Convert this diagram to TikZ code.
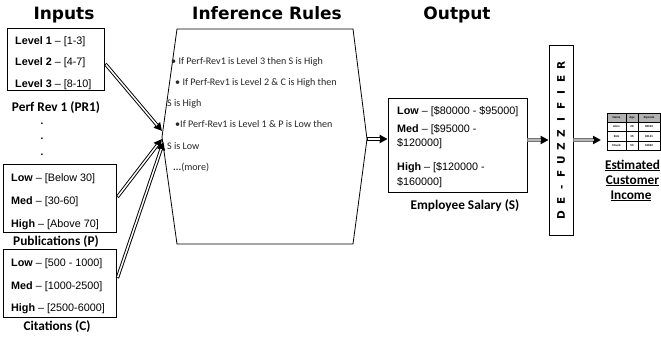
\documentclass[tikz,border=0pt]{standalone}
\usepackage{fontspec}
\setmainfont{Liberation Sans}
\newfontfamily\calfont{Carlito}
\newfontfamily\ttlfont{DejaVu Sans}
\usetikzlibrary{arrows.meta,calc}
\newcommand\dfl[1]{\makebox[13.6pt]{#1}}
\begin{document}
\begin{tikzpicture}[x=1pt,y=-1pt,
  box/.style={draw, line width=0.8pt, inner sep=0pt},
  btxt/.style={anchor=base west, inner sep=0pt, font=\fontsize{10.8}{12}\selectfont},
  capt/.style={anchor=base, inner sep=0pt, font=\calfont\bfseries\fontsize{13.3}{15}\selectfont},
  ttl/.style={anchor=base, inner sep=0pt, font=\ttlfont\bfseries\fontsize{17}{20}\selectfont},
  rtxt/.style={anchor=base west, inner sep=0pt, font=\calfont\fontsize{10.1}{12}\selectfont, text=black!85},
  dotn/.style={inner sep=0pt, font=\bfseries\fontsize{10}{10}\selectfont},
  dbl/.style={line width=3.4pt, -{Triangle[length=8pt,width=8pt]},
    postaction={draw=white, line width=1.5pt, arrows=-, shorten >=7.5pt, shorten <=0.8pt}},
  gdbl/.style={draw=black!55, line width=3.6pt, -{Triangle[length=8pt,width=8pt,color=black]},
    postaction={draw=black!28, line width=1.8pt, arrows=-, shorten >=7.5pt, shorten <=0.8pt}},
  tcell/.style={inner sep=0pt, font=\bfseries\fontsize{2.8}{3}\selectfont}
]
\useasboundingbox (0,0) rectangle (661,337);

% titles
\node[ttl] (t1) at (64,19.5) {Inputs};
\node[ttl] (t2) at (267,19.5) {Inference Rules};
\node[ttl] (t3) at (457,19.5) {Output};

% input boxes
\node[box, minimum width=97pt, minimum height=62pt] (pr1) at (55.5,59) {};
\node[btxt] (pr1a) at (15,45) {\textbf{Level 1} -- [1-3]};
\node[btxt] (pr1b) at (15,66) {\textbf{Level 2} -- [4-7]};
\node[btxt] (pr1c) at (15,87) {\textbf{Level 3} -- [8-10]};
\node[capt] (pr1l) at (56,111.5) {Perf Rev 1 (PR1)};
\node[dotn] (d1) at (42,123.5) {.};
\node[dotn] (d2) at (42,139) {.};
\node[dotn] (d3) at (42,155) {.};

\node[box, minimum width=113pt, minimum height=68pt] (pub) at (59.5,198) {};
\node[btxt] (puba) at (11,181) {\textbf{Low} -- [Below 30]};
\node[btxt] (pubb) at (11,204) {\textbf{Med} -- [30-60]};
\node[btxt] (pubc) at (11,227) {\textbf{High} -- [Above 70]};
\node[capt] (publ) at (56,245.5) {Publications (P)};

\node[box, minimum width=113pt, minimum height=68pt] (cit) at (59.5,283) {};
\node[btxt] (cita) at (11,266) {\textbf{Low} -- [500 - 1000]};
\node[btxt] (citb) at (11,289) {\textbf{Med} -- [1000-2500]};
\node[btxt] (citc) at (11,311) {\textbf{High} -- [2500-6000]};
\node[capt] (citl) at (57,330.5) {Citations (C)};

% inference shape
\coordinate (iTL) at (177,29);
\coordinate (iTR) at (353,29);
\coordinate (iR) at (367,139);
\coordinate (iBR) at (353,244);
\coordinate (iBL) at (177,244);
\coordinate (iL) at (162,137);
\draw[line width=0.8pt] (iTL) -- (iTR) -- (iR) -- (iBR) -- (iBL) -- (iL) -- cycle;
\node[rtxt] (r1) at (171,64.5) {\textbullet\ If Perf-Rev1 is Level 3 then S is High};
\node[rtxt] (r2) at (175,85.5) {\textbullet\ If Perf-Rev1 is Level 2 \& C is High then};
\node[rtxt] (r3) at (167,106.5) {S is High};
\node[rtxt] (r4) at (175,127.5) {\textbullet If Perf-Rev1 is Level 1 \& P is Low then};
\node[rtxt] (r5) at (167,149) {S is Low};
\node[rtxt] (r6) at (173,170.5) {\textbf{...}(more)};

\coordinate (in1) at (162,131);
\coordinate (in2) at (162,139);
\coordinate (in3) at (163.5,142);
\draw[dbl] ($(pr1.east)+(1,5)$) -- (in1);
\draw[dbl] ($(pub.east)+(1,-1)$) -- (in2);
\draw[dbl] ($(cit.east)+(1,-5)$) -- (in3);

% output
\node[box, minimum width=139pt, minimum height=94pt] (out) at (457.5,145) {};
\node[btxt] (oa) at (397,114) {\textbf{Low} -- [\$80000 - \$95000]};
\node[btxt] (ob) at (397,132) {\textbf{Med} -- [\$95000 -};
\node[btxt] (ob2) at (397,146) {\$120000]};
\node[btxt] (oc) at (397,170) {\textbf{High} -- [\$120000 -};
\node[btxt] (oc2) at (397,185) {\$160000]};
\node[capt] (outl) at (465,209.5) {Employee Salary (S)};

\draw[dbl] (iR) -- (out.west |- iR);

% defuzzifier
\node[box, minimum width=24pt, minimum height=190pt] (dfz) at (561,140) {};
\node[inner sep=0pt, rotate=90, font=\ttlfont\bfseries\fontsize{10.5}{12}\selectfont] (dfzt) at (561,140)
  {\dfl{D}\dfl{E}\dfl{-}\dfl{F}\dfl{U}\dfl{Z}\dfl{Z}\dfl{I}\dfl{F}\dfl{I}\dfl{E}\dfl{R}};

\draw[gdbl] ($(out.east)+(0,-5)$) -- (dfz.west |- 0,140);

% table
\coordinate (tin) at (601,140);
\draw[gdbl] (dfz.east |- 0,140) -- (tin);
\fill[black!30] (607,113) rectangle (660,122);
\draw[line width=0.4pt] (607,113) rectangle (660,150);
\draw[line width=0.3pt] (607,122) -- (660,122) (607,131.5) -- (660,131.5) (607,141) -- (660,141)
  (626,113) -- (626,150) (638,113) -- (638,150);
\node[tcell] (h1) at (616.5,117.5) {Name};
\node[tcell] (h2) at (632,117.5) {Age};
\node[tcell] (h3) at (649,117.5) {Zipcode};
\node[tcell] (a1) at (616.5,126.75) {Alice};
\node[tcell] (a2) at (632,126.75) {28};
\node[tcell] (a3) at (649,126.75) {98033};
\node[tcell] (b1) at (616.5,136.25) {Bob};
\node[tcell] (b2) at (632,136.25) {35};
\node[tcell] (b3) at (649,136.25) {92131};
\node[tcell] (c1) at (616.5,145.5) {Chuck};
\node[tcell] (c2) at (632,145.5) {50};
\node[tcell] (c3) at (649,145.5) {16802};

\node[capt] (e1) at (632.5,169) {\underline{Estimated}};
\node[capt] (e2) at (632.5,184) {\underline{Customer}};
\node[capt] (e3) at (631,199) {\underline{Income}};
\end{tikzpicture}
\end{document}
